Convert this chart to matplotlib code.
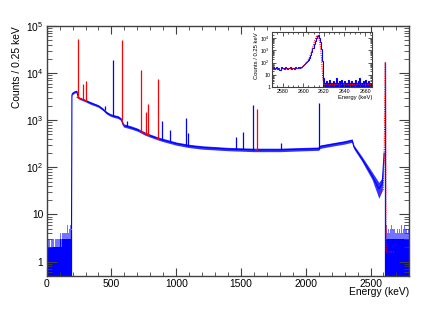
import numpy as np
import matplotlib.pyplot as plt
from matplotlib.ticker import FixedLocator, MultipleLocator, LogLocator, NullFormatter

plt.rcParams['font.family'] = ['Liberation Sans', 'DejaVu Sans']
plt.rcParams['mathtext.default'] = 'regular'

# continuum of the spectrum (keV, counts per 0.25 keV): centre and spread of the band
cont_e = [192, 195, 200, 215, 232, 245, 270, 300, 335, 400,
          435, 461, 490, 520, 550, 575, 592, 650, 700, 760,
          800, 860, 900, 1000, 1100, 1200, 1400, 1600, 1800, 2000,
          2100, 2110, 2200, 2300, 2358, 2372, 2435, 2512, 2564, 2590,
          2605]
cont_mid = [5, 3400, 3700, 3950, 4100, 3000, 2800, 2600, 2350, 2000,
            1700, 1450, 1300, 1220, 1170, 1050, 780, 700, 630, 520,
            470, 410, 380, 320, 285, 265, 245, 235, 235, 245,
            250, 275, 305, 340, 370, 270, 150, 67, 35, 45,
            200]
cont_lo = [4, 3200, 3500, 3750, 3900, 2850, 2650, 2450, 2200, 1880,
           1600, 1360, 1220, 1140, 1090, 980, 720, 650, 585, 480,
           435, 380, 350, 295, 262, 243, 225, 215, 215, 225,
           230, 252, 280, 312, 340, 245, 132, 55, 22, 32,
           180]
cont_hi = [6, 3600, 3900, 4150, 4300, 3150, 2950, 2750, 2500, 2120,
           1800, 1550, 1380, 1300, 1250, 1120, 840, 760, 680, 560,
           505, 440, 410, 345, 308, 287, 265, 255, 255, 265,
           270, 298, 330, 368, 400, 295, 168, 80, 48, 60,
           220]

# noise below threshold and above the 2614 keV line (5 keV groups)
low_edges = np.arange(0, 191, 5)
low_env = [3, 3, 3, 2, 3, 2, 3, 3, 2, 3, 3, 3, 2, 3, 3, 3, 3, 3, 3, 3,
           5, 4, 3, 3, 4, 5, 4, 4, 3, 4, 4, 5, 6, 4, 4, 5, 6, 5]
low_solid = [2, 2, 2, 2, 2, 2, 2, 2, 2, 2, 2, 2, 2, 2, 2, 2, 2, 2, 2, 2,
             3, 3, 2, 3, 3, 3, 3, 3, 3, 3, 3, 3, 3, 3, 3, 3, 3, 3]
high_edges = np.arange(2620, 2801, 5)
high_env = [6, 5, 4, 5, 6, 4, 5, 4, 6, 5, 4, 5, 5, 6, 4, 5, 4, 5,
            6, 4, 5, 5, 4, 6, 5, 4, 5, 4, 6, 5, 4, 5, 5, 4, 5, 6]
high_solid = [3, 3, 3, 3, 3, 3, 3, 3, 3, 3, 3, 3, 3, 3, 3, 3, 3, 3,
              3, 3, 3, 3, 3, 3, 3, 3, 3, 3, 3, 3, 3, 3, 3, 3, 3, 3]

# peaks not fitted (blue) and fitted (red)
blue_e = [452, 511, 620, 893, 952, 1078, 1093, 1460, 1512, 1592, 1806, 2103, 2614]
blue_top = [2000, 19000, 950, 940, 630, 1100, 530, 430, 550, 2100, 330, 2300, 17000]
blue_base = [1650, 1250, 750, 380, 360, 285, 283, 245, 242, 235, 240, 250, 0.5]
red_e = [238.6, 277.4, 300.1, 583.2, 727.3, 763.1, 785.4, 860.6, 1620.5]
red_top = [53000, 5900, 6900, 51000, 11500, 1500, 2200, 7600, 1700]
red_base = [3000, 2800, 2600, 1000, 570, 510, 480, 410, 235]

# fit ranges (background under the fitted peaks)
fit_lo = [235, 578, 720, 852, 1612]
fit_hi = [305, 598, 795, 870, 1628]
fit_blo = [3050, 1020, 590, 415, 236]
fit_bhi = [2580, 770, 470, 400, 234]

# 2614 keV line, 1 keV bins from 2570 keV
peak_counts = [34, 41, 29, 38, 45, 31, 36, 27, 40, 33, 37, 30, 43, 35, 28,
               39, 34, 42, 31, 36, 38, 29, 44, 33, 37, 40, 35, 41, 46, 52,
               62, 72, 88, 110, 140, 180, 260, 420, 800, 1600,
               3200, 6000, 10000, 15000, 17000, 11000, 5000, 1200, 130, 6,
               2, 2, 3, 2, 2, 4, 2, 2, 2, 3, 2, 2, 5, 2, 2, 3, 2, 4, 2, 2,
               3, 2, 2, 4, 2, 2, 3, 2, 2, 2, 4, 2, 2, 3, 5, 2, 2, 2, 3, 2,
               4, 2, 2, 3, 2, 2, 2]
peak_edges = np.arange(2570, 2668)
fit_e = [2570, 2598, 2601, 2604, 2606, 2608, 2610, 2612, 2613, 2614,
         2615, 2616, 2617, 2618, 2619, 2620, 2690]
fit_c = [29, 33, 60, 130, 250, 750, 3000, 10000, 15000, 17000,
         11000, 5000, 1200, 100, 5, 1.6, 1.6]

BLUE = '#0000ff'
RED = '#ff0000'
FRAME = '#404040'

fig = plt.figure(figsize=(4.36, 3.13), dpi=100)
ax = fig.add_axes([0.107, 0.119, 0.832, 0.798])

ax.stairs(low_env, low_edges, fill=True, baseline=0.5, color=BLUE, alpha=0.55, lw=0)
ax.stairs(low_solid, low_edges, fill=True, baseline=0.5, color=BLUE, lw=0)
ax.stairs(high_env, high_edges, fill=True, baseline=0.5, color=BLUE, alpha=0.55, lw=0)
ax.stairs(high_solid, high_edges, fill=True, baseline=0.5, color=BLUE, lw=0)
ax.vlines([low_edges[-1]], 0.5, cont_mid[0], color=BLUE, lw=0.9)

ax.fill_between(cont_e, cont_lo, cont_hi, color=BLUE, lw=0, alpha=0.8)
ax.plot(cont_e, cont_mid, color=BLUE, lw=0.8)
ax.vlines(blue_e, blue_base, blue_top, color=BLUE, lw=0.9)
ax.vlines(red_e, red_base, red_top, color=RED, lw=0.9, zorder=4)
for lo, hi, blo, bhi in zip(fit_lo, fit_hi, fit_blo, fit_bhi):
    ax.plot([lo, hi], [blo, bhi], color=RED, lw=0.8, zorder=4)
ax.plot(fit_e, fit_c, color=RED, lw=0.8, ls=(0, (1, 1)), zorder=4)

ax.set_xlim(0, 2800)
ax.set_yscale('log')
ax.set_ylim(0.5, 1e5)
ax.xaxis.set_major_locator(MultipleLocator(500))
ax.xaxis.set_minor_locator(MultipleLocator(100))
ax.yaxis.set_major_locator(FixedLocator([1, 10, 100, 1e3, 1e4, 1e5]))
ax.set_yticklabels(['1', '10', '$10^{2}$', '$10^{3}$', '$10^{4}$', '$10^{5}$'])
ax.yaxis.set_minor_locator(LogLocator(base=10, subs=np.arange(2, 10)))
ax.yaxis.set_minor_formatter(NullFormatter())
ax.tick_params(which='both', direction='in', top=True, right=True,
               labelsize=7.4, colors=FRAME, labelcolor='black')
ax.tick_params(axis='x', which='major', length=6, pad=2)
ax.tick_params(axis='x', which='minor', length=3)
ax.tick_params(axis='y', which='major', length=7, pad=2.5)
ax.tick_params(axis='y', which='minor', length=3.5)
for s in ax.spines.values():
    s.set_color(FRAME)
    s.set_linewidth(1.0)
ax.set_xlabel('Energy (keV)', fontsize=7.4, loc='right')
ax.xaxis.set_label_coords(1.0, -0.045)
ax.set_ylabel('Counts / 0.25 keV', fontsize=7.4, loc='top')
ax.yaxis.set_label_coords(-0.068, 1.0)

# inset around the 2614 keV line
ins = fig.add_axes([0.6245, 0.722, 0.2294, 0.1745])
ins.stairs(peak_counts, peak_edges, color=BLUE, lw=0.8)
ins.stairs(peak_counts[49:], peak_edges[49:], fill=True, baseline=0.8, color=BLUE, lw=0)
ins.plot(fit_e, fit_c, color=RED, lw=0.8, ls=(0, (1, 1)))
ins.set_xlim(2570, 2667)
ins.set_yscale('log')
ins.set_ylim(1, 3e4)
ins.xaxis.set_major_locator(MultipleLocator(20))
ins.xaxis.set_minor_locator(MultipleLocator(5))
ins.yaxis.set_major_locator(FixedLocator([1, 10, 100, 1e3, 1e4]))
ins.set_yticklabels(['1', '10', '$10^{2}$', '$10^{3}$', '$10^{4}$'])
ins.yaxis.set_minor_locator(LogLocator(base=10, subs=np.arange(2, 10)))
ins.yaxis.set_minor_formatter(NullFormatter())
ins.tick_params(which='both', direction='in', top=True, right=True,
                labelsize=3.8, colors=FRAME, labelcolor='black', width=0.6)
ins.tick_params(which='major', length=3, pad=1.5)
ins.tick_params(which='minor', length=1.5)
for s in ins.spines.values():
    s.set_color(FRAME)
    s.set_linewidth(0.8)
ins.set_xlabel('Energy (keV)', fontsize=4.2, loc='right')
ins.xaxis.set_label_coords(1.0, -0.14)
ins.set_ylabel('Counts / 0.25 keV', fontsize=4.2, loc='top')
ins.yaxis.set_label_coords(-0.13, 1.0)

fig.savefig('out.png', dpi=100)
